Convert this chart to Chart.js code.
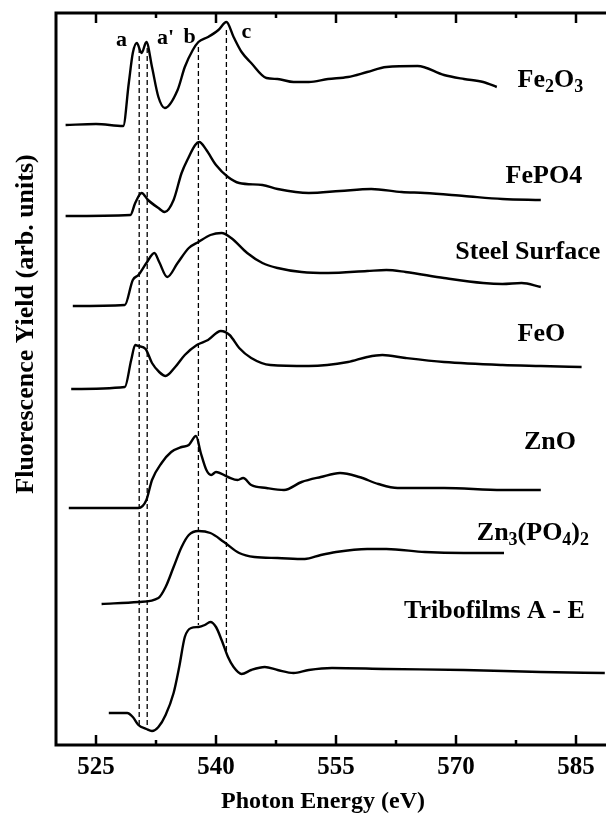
<!DOCTYPE html>
<html>
<head>
<meta charset="utf-8">
<title>O K-edge XANES</title>
<script src="https://cdn.jsdelivr.net/npm/chart.js@4/dist/chart.umd.min.js"></script>
<style>
  html, body { margin: 0; padding: 0; background: #fff; overflow: hidden; }
  #wrap { width: 606px; height: 814px; overflow: hidden; }
  canvas { display: block; }
</style>
</head>
<body>
<div id="wrap"><canvas id="c" width="616" height="814"></canvas></div>
<script>
// Photon energy axis (eV): labelled every 15 eV, minor marks halfway between
const energyTicks = [525, 532.5, 540, 547.5, 555, 562.5, 570, 577.5, 585];

// Spectra, stacked with vertical offsets (arb. units)
const fe2o3E = [521.2, 525.0, 528.4, 529.1, 529.6, 530.1, 530.7, 531.3, 532.0, 532.8, 533.6, 535.2, 536.1, 537.1, 537.8, 539.0, 540.3, 541.3, 542.2, 543.2, 544.4, 546.3, 547.7, 549.7, 551.6, 554.0, 556.5, 558.9, 561.3, 565.2, 568.5, 571.0, 573.4, 575.1];
const fe2o3Y = [62.0, 62.1, 61.9, 66.2, 69.2, 70.2, 69.2, 70.3, 67.8, 64.8, 63.7, 65.5, 67.8, 69.5, 70.3, 70.8, 71.5, 72.3, 70.8, 69.3, 68.2, 66.7, 66.6, 66.3, 66.3, 66.6, 66.8, 67.3, 67.8, 67.9, 67.0, 66.6, 66.3, 65.8];

const fepo4E = [521.2, 529.3, 529.9, 530.7, 531.5, 532.8, 533.6, 534.7, 535.7, 536.6, 537.4, 537.9, 538.8, 540.0, 541.5, 542.9, 545.8, 547.7, 551.6, 555.5, 559.4, 563.2, 566.1, 571.0, 575.8, 580.6];
const fepo4Y = [52.9, 53.0, 54.2, 55.2, 54.5, 53.7, 53.3, 54.5, 57.2, 58.8, 60.0, 60.3, 59.5, 58.0, 56.8, 56.2, 56.0, 55.6, 55.2, 55.4, 55.6, 55.3, 55.2, 54.9, 54.6, 54.5];

const steelE = [522.1, 528.6, 529.6, 530.3, 531.3, 532.3, 532.9, 533.9, 535.2, 536.6, 537.8, 539.3, 540.7, 541.9, 543.9, 545.8, 547.7, 550.7, 554.0, 558.9, 561.3, 563.7, 568.5, 573.4, 575.8, 578.2, 580.6];
const steelY = [43.9, 44.0, 46.5, 47.0, 48.2, 49.2, 48.3, 46.8, 48.2, 49.7, 50.3, 51.0, 51.2, 50.7, 49.2, 48.2, 47.7, 47.3, 47.2, 47.4, 47.5, 47.3, 46.7, 46.2, 46.1, 46.2, 45.8];

const feoE = [521.9, 528.6, 529.4, 529.9, 530.3, 531.2, 532.0, 532.9, 533.7, 534.9, 536.1, 537.6, 539.0, 540.6, 541.7, 542.9, 544.4, 546.8, 551.6, 556.5, 558.9, 560.8, 563.7, 568.5, 575.8, 580.6, 585.7];
const feoY = [35.6, 35.8, 38.5, 40.0, 39.9, 39.6, 38.2, 37.3, 36.9, 37.8, 39.0, 40.0, 40.5, 41.4, 41.0, 39.7, 38.7, 38.0, 37.9, 38.3, 38.8, 39.0, 38.7, 38.3, 38.0, 37.9, 37.8];

const znoE = [521.6, 530.3, 531.3, 532.0, 533.2, 534.4, 535.7, 536.6, 537.5, 538.1, 538.8, 539.4, 540.0, 541.5, 542.7, 543.4, 544.4, 546.3, 548.5, 550.7, 553.1, 555.5, 557.9, 560.3, 562.7, 568.5, 575.8, 580.6];
const znoY = [23.7, 23.7, 24.5, 26.5, 28.2, 29.3, 29.8, 30.0, 30.9, 29.2, 27.5, 27.0, 27.3, 26.8, 26.5, 26.7, 26.0, 25.7, 25.5, 26.3, 26.8, 27.2, 26.8, 26.1, 25.7, 25.7, 25.5, 25.5];

const zn3po42E = [525.7, 530.3, 532.8, 533.7, 534.7, 535.7, 536.6, 537.8, 539.3, 541.0, 542.9, 544.8, 547.7, 551.1, 553.1, 555.0, 558.9, 561.3, 566.1, 571.0, 576.0];
const zn3po42Y = [14.1, 14.3, 14.7, 15.8, 17.8, 19.8, 21.0, 21.4, 21.2, 20.3, 19.2, 18.8, 18.7, 18.6, 19.0, 19.3, 19.6, 19.6, 19.3, 19.2, 19.2];

const triboE = [526.6, 528.9, 529.6, 530.3, 531.3, 532.0, 532.8, 533.7, 534.7, 535.4, 536.1, 536.9, 537.8, 538.6, 539.3, 540.0, 540.7, 541.5, 542.2, 543.2, 544.4, 546.1, 547.7, 549.7, 551.6, 554.5, 561.3, 571.0, 580.6, 588.6];
const triboY = [3.2, 3.2, 2.8, 2.0, 1.6, 1.4, 1.8, 3.0, 5.2, 7.8, 10.8, 11.7, 11.8, 12.0, 12.3, 11.8, 10.5, 8.8, 7.8, 7.1, 7.5, 7.8, 7.5, 7.2, 7.5, 7.7, 7.6, 7.5, 7.3, 7.2];

// Reference energies of features a, a', b, c and the extent of their guide lines
const featureNames  = ['a', "a'", 'b', 'c'];
const featureEnergy = [530.4, 531.4, 537.8, 541.3];
const featureTop    = [69.7, 69.7, 69.8, 71.5];
const featureBottom = [1.8, 1.8, 12.0, 9.2];
const featureLabelE = [528.2, 533.7, 536.7, 543.8];
const featureLabelY = [70.5, 70.7, 70.8, 71.3];

// Sample names written beside each spectrum (left edge energy, vertical centre)
const sampleNames = [
  [{t: 'Fe'}, {t: '2', sub: true}, {t: 'O'}, {t: '3', sub: true}],
  [{t: 'FePO4'}],
  [{t: 'Steel Surface'}],
  [{t: 'FeO'}],
  [{t: 'ZnO'}],
  [{t: 'Zn'}, {t: '3', sub: true}, {t: '(PO'}, {t: '4', sub: true}, {t: ')'}, {t: '2', sub: true}],
  [{t: 'Tribofilms A - E'}]
];
const sampleLabelE = [577.7, 576.2, 569.9, 577.7, 578.5, 572.6, 563.5];
const sampleLabelY = [66.5, 56.9, 49.3, 41.1, 30.3, 21.2, 13.4];

const SERIF = "'Liberation Serif', 'Times New Roman', serif";

function pts(xs, ys) { return xs.map((x, i) => ({x: x, y: ys[i]})); }

const spectra = [
  [fe2o3E, fe2o3Y], [fepo4E, fepo4Y], [steelE, steelY], [feoE, feoY],
  [znoE, znoY], [zn3po42E, zn3po42Y], [triboE, triboY]
];

const datasets = spectra.map(([e, y]) => ({
  data: pts(e, y),
  borderColor: '#000',
  borderWidth: 2.4,
  pointRadius: 0,
  fill: false,
  cubicInterpolationMode: 'monotone'
}));

featureEnergy.forEach((e, i) => {
  datasets.push({
    data: [{x: e, y: featureTop[i]}, {x: e, y: featureBottom[i]}],
    borderColor: '#000',
    borderWidth: 1.3,
    borderDash: [5, 3],
    pointRadius: 0,
    fill: false
  });
});

function drawRich(ctx, parts, x, y, size) {
  let cx = x;
  ctx.textBaseline = 'middle';
  ctx.textAlign = 'left';
  parts.forEach(p => {
    if (p.sub) {
      ctx.font = 'bold ' + Math.round(size * 0.68) + 'px ' + SERIF;
      ctx.fillText(p.t, cx, y + size * 0.3);
    } else {
      ctx.font = 'bold ' + size + 'px ' + SERIF;
      ctx.fillText(p.t, cx, y);
    }
    cx += ctx.measureText(p.t).width;
  });
}

const framePlugin = {
  id: 'frame',
  afterDraw(chart) {
    const ctx = chart.ctx;
    const a = chart.chartArea;
    const xs = chart.scales.x;
    const ys = chart.scales.y;
    ctx.save();
    ctx.strokeStyle = '#000';
    ctx.fillStyle = '#000';
    ctx.lineWidth = 3;
    ctx.lineCap = 'square';
    ctx.beginPath();
    ctx.moveTo(a.right, a.top);
    ctx.lineTo(a.left, a.top);
    ctx.lineTo(a.left, a.bottom);
    ctx.lineTo(a.right, a.bottom);
    ctx.stroke();

    // inward tick marks on bottom and top axes
    ctx.lineWidth = 2.5;
    ctx.lineCap = 'butt';
    energyTicks.forEach(v => {
      const px = xs.getPixelForValue(v);
      const len = (v % 15 === 0) ? 10 : 5;
      ctx.beginPath();
      ctx.moveTo(px, a.bottom);
      ctx.lineTo(px, a.bottom - len);
      ctx.moveTo(px, a.top);
      ctx.lineTo(px, a.top + len);
      ctx.stroke();
    });

    // feature letters
    ctx.font = 'bold 22px ' + SERIF;
    ctx.textAlign = 'center';
    ctx.textBaseline = 'middle';
    featureNames.forEach((n, i) => {
      ctx.fillText(n, xs.getPixelForValue(featureLabelE[i]), ys.getPixelForValue(featureLabelY[i]));
    });

    // sample names
    sampleNames.forEach((parts, i) => {
      drawRich(ctx, parts, xs.getPixelForValue(sampleLabelE[i]), ys.getPixelForValue(sampleLabelY[i]), 26);
    });

    // axis titles
    ctx.textAlign = 'center';
    ctx.textBaseline = 'alphabetic';
    ctx.font = 'bold 24px ' + SERIF;
    ctx.fillText('Photon Energy (eV)', 323, 808);
    ctx.save();
    ctx.translate(33, 324);
    ctx.rotate(-Math.PI / 2);
    ctx.font = 'bold 26px ' + SERIF;
    ctx.textBaseline = 'alphabetic';
    ctx.fillText('Fluorescence Yield (arb. units)', 0, 0);
    ctx.restore();
    ctx.restore();
  }
};

new Chart(document.getElementById('c'), {
  type: 'line',
  data: { datasets: datasets },
  options: {
    responsive: false,
    devicePixelRatio: 1,
    animation: false,
    events: [],
    layout: { padding: { left: 56, top: 13, right: 0, bottom: 0 } },
    plugins: { legend: { display: false }, tooltip: { enabled: false }, title: { display: false } },
    scales: {
      x: {
        type: 'linear',
        min: 520,
        max: 590,
        border: { display: false },
        grid: { display: false, drawTicks: false },
        afterBuildTicks: s => { s.ticks = energyTicks.map(v => ({ value: v })); },
        afterFit: s => { s.height = 69; },
        ticks: {
          autoSkip: false,
          maxRotation: 0,
          padding: 8,
          color: '#000',
          font: { family: SERIF, size: 25, weight: 'bold' },
          callback: v => (v % 15 === 0 ? String(v) : '')
        }
      },
      y: {
        type: 'linear',
        min: 0,
        max: 73.2,
        display: false
      }
    }
  },
  plugins: [framePlugin]
});
</script>
</body>
</html>
